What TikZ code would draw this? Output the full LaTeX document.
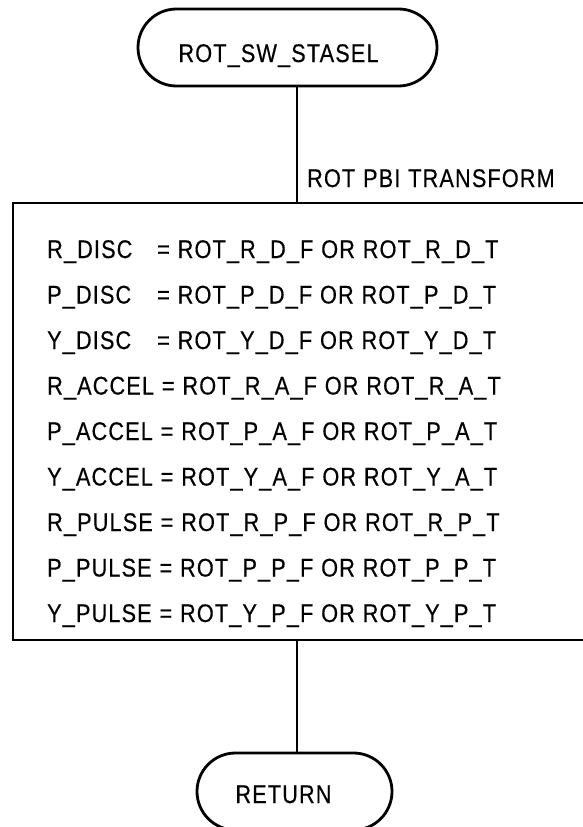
\documentclass[tikz,border=0pt]{standalone}
\usepackage{fontspec}
\setmainfont{Liberation Sans}[FakeStretch=0.85,LetterSpace=4.5,WordSpace=1.1,FakeBold=0.4]
\usetikzlibrary{shapes.misc}

\begin{document}
\begin{tikzpicture} [x=1pt,y=-1pt,font=\fontsize{25.5}{30}\selectfont,
    terminal/.style={rounded rectangle, draw, line width=2.8pt, minimum height=77pt, inner sep=0pt},
    procbox/.style={rectangle, draw, line width=2.8pt, inner sep=0pt},
    flow/.style={line width=2.8pt},
    eqline/.style={anchor=base west, inner sep=0pt}]
            \useasboundingbox (0,0) rectangle (582,827);
            \node[terminal, minimum width=299pt] (start) at (287.5,47.5) {}; \path (start.center) ++(-9,14.5) node[anchor=base, inner sep=0pt] (starttxt) {ROT\_SW\_STASEL};
            \node[procbox, minimum width=587pt, minimum height=437pt] (xform) at (306.5,421.5) {};
            \node[anchor=base west, inner sep=0pt] (xformlbl) at (307,187) {ROT PBI TRANSFORM};
            \node[terminal, minimum width=195pt] (ret) at (294.5,791.5) {}; \path (ret.center) ++(-11,11.5) node[anchor=base, inner sep=0pt] (rettxt) {RETURN};
            \coordinate (spine) at (297,0);
            \draw[flow] (start.south -| spine) -- (xform.north -| spine); \draw[flow] (xform.south -| spine) -- (ret.north -| spine);

            \node[eqline] (rdisc) at (47,258) {\makebox[110pt][l]{R\_DISC}= ROT\_R\_D\_F OR ROT\_R\_D\_T};
            \node[eqline] (pdisc) at (47,303.5) {\makebox[110pt][l]{P\_DISC}= ROT\_P\_D\_F OR ROT\_P\_D\_T};
            \node[eqline] (ydisc) at (47,349) {\makebox[110pt][l]{Y\_DISC}= ROT\_Y\_D\_F OR ROT\_Y\_D\_T};
            \node[eqline] (raccel) at (47,394.5) {R\_ACCEL = ROT\_R\_A\_F OR ROT\_R\_A\_T};
            \node[eqline] (paccel) at (47,440) {P\_ACCEL = ROT\_P\_A\_F OR ROT\_P\_A\_T};
            \node[eqline] (yaccel) at (47,485.5) {Y\_ACCEL = ROT\_Y\_A\_F OR ROT\_Y\_A\_T};
            \node[eqline] (rpulse) at (47,531) {R\_PULSE = ROT\_R\_P\_F OR ROT\_R\_P\_T};
            \node[eqline] (ppulse) at (47,576.5) {P\_PULSE = ROT\_P\_P\_F OR ROT\_P\_P\_T};
            \node[eqline] (ypulse) at (47,622) {Y\_PULSE = ROT\_Y\_P\_F OR ROT\_Y\_P\_T};
\end{tikzpicture}
\end{document}
